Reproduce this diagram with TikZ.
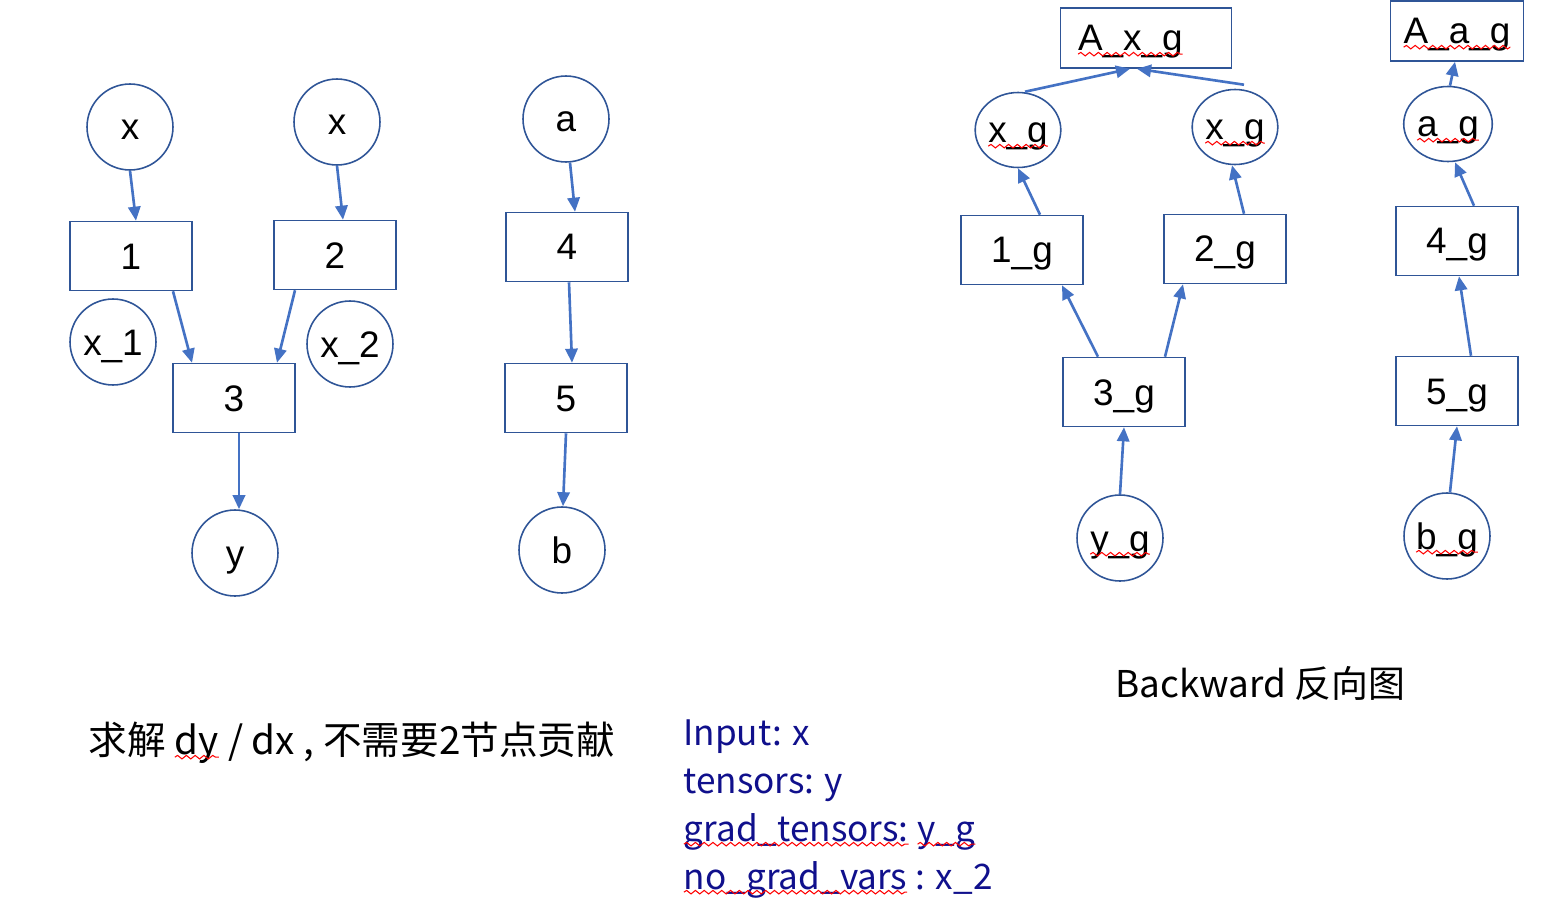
\documentclass[tikz,border=0pt]{standalone}
\usepackage{fontspec}
\setmainfont{Liberation Sans}
\newfontfamily\cjk{Noto Sans CJK SC}
\usetikzlibrary{arrows.meta, shapes.geometric, decorations.pathmorphing}
\newcommand\redwave[1]{\tikz[baseline=(w.base), x=1cm, y=1cm]{%
  \node[rectangle, draw=none, fill=none, inner sep=0pt, outer sep=0pt, minimum width=0pt, minimum height=0pt,
        text width=, text height=, text depth=, anchor=center] (w) {#1};
  \draw[red, line width=0.6pt, decorate, decoration={snake, amplitude=1pt, segment length=5pt}]
    ([yshift=-1.8pt]w.base west) -- ([yshift=-1.8pt]w.base east);}}

\begin{document}
\begin{tikzpicture}[x=0.02cm, y=-0.02cm, font=\fontsize{21}{25}\selectfont,
    lbl/.style={inner sep=0pt, text height=0.6cm, text depth=0.08cm},
    vnode/.style={lbl, circle, draw=nodeblue, line width=0.9pt, minimum size=1.72cm},
    gnode/.style={lbl, ellipse, draw=nodeblue, line width=0.9pt, minimum width=1.6cm, minimum height=1.5cm},
    opbox/.style={lbl, rectangle, draw=nodeblue, line width=0.9pt, minimum width=2.44cm, minimum height=1.38cm},
    flow/.style={draw=arrowblue, line width=1.5pt, -{Triangle[length=8pt, width=7pt]}},
    note/.style={font=\cjk\fontsize{#1}{27}\selectfont, inner sep=0pt, anchor=base west}]
  \definecolor{nodeblue}{RGB}{47,85,151}
  \definecolor{arrowblue}{RGB}{68,114,196}
  \definecolor{argblue}{RGB}{16,16,140}
  \useasboundingbox (0,0) rectangle (1556,916);
  % ---- forward graph ------------------------------------------------------
  \foreach \n/\x/\y/\t in {x1in/130/127/x, x2in/337/122/x, xa/113/342/x\_1, xb/350/344/x\_2,
                           yout/235/553/y, ain/566/119/a, bout/562/550/b} {
    \node[vnode] (\n) at (\x,\y) {\t};}
  \foreach \n/\x/\y/\t in {op1/131/256/1, op2/335/255/2, op3/234/398/3, op4/567/247/4, op5/566/398/5} {
    \node[opbox] (\n) at (\x,\y) {\t};}
  \draw[flow] (x1in.south) -- ([shift={(5,0)}]op1.north);
  \draw[flow] (x2in.south) -- ([shift={(8,0)}]op2.north);
  \draw[flow] ([shift={(42,0)}]op1.south) -- ([shift={(-42,0)}]op3.north);
  \draw[flow] ([shift={(-40,0)}]op2.south) -- ([shift={(43,0)}]op3.north);
  \draw[flow] ([shift={(5,0)}]op3.south) -- ([shift={(4,0)}]yout.north);
  \draw[flow] ([shift={(4,0)}]ain.south) -- ([shift={(8,0)}]op4.north);
  \draw[flow] ([shift={(2,0)}]op4.south) -- ([shift={(6,0)}]op5.north);
  \draw[flow] (op5.south) -- ([shift={(1,0)}]bout.north);
  % ---- backward graph -----------------------------------------------------
  \node[opbox, minimum width=3.42cm, minimum height=1.2cm, text width=2.74cm, align=left] (axg) at (1146,38) {\redwave{A\_x\_g}};
  \node[opbox, minimum width=2.66cm, minimum height=1.2cm] (aag) at (1457,31) {\redwave{A\_a\_g}};
  \node[gnode] (xgl) at (1018,130) {\redwave{x\_g}};
  \node[gnode] (xgr) at (1235,127) {\redwave{x\_g}};
  \node[gnode] (agn) at (1448,124) {\redwave{a\_g}};
  \foreach \n/\x/\y/\t in {g1/1022/250/1\_g, g2/1225/249/2\_g, g3/1124/392/3\_g, g4/1457/241/4\_g, g5/1457/391/5\_g} {
    \node[opbox] (\n) at (\x,\y) {\t};}
  \node[vnode] (yg) at (1120,538) {\redwave{y\_g}};
  \node[vnode] (bg) at (1447,536) {\redwave{b\_g}};
  \draw[flow] ([shift={(18,0)}]g1.north) -- (xgl.south);
  \draw[flow] ([shift={(19,0)}]g2.north) -- ([shift={(-3,0)}]xgr.south);
  \draw[flow] ([shift={(7,0)}]xgl.north) -- ([shift={(-16,0)}]axg.south);
  \draw[flow] ([shift={(9,-4)}]xgr.north) -- ([shift={(-9,0)}]axg.south);
  \draw[flow] ([shift={(-26,0)}]g3.north) -- ([shift={(40,0)}]g1.south);
  \draw[flow] ([shift={(41,0)}]g3.north) -- ([shift={(-42,0)}]g2.south);
  \draw[flow] (yg.north) -- (g3.south);
  \draw[flow] ([shift={(2,0)}]agn.north) -- ([shift={(-2,0)}]aag.south);
  \draw[flow] ([shift={(17,0)}]g4.north) -- ([shift={(7,0)}]agn.south);
  \draw[flow] ([shift={(14,0)}]g5.north) -- ([shift={(2,0)}]g4.south);
  \draw[flow] ([shift={(3,0)}]bg.north) -- (g5.south);
  % ---- captions -----------------------------------------------------------
  \node[note=22] (goal) at (88,754) {求解 \redwave{dy} / dx , 不需要2节点贡献};
  \node[note=21] (title) at (1115,697) {Backward 反向图};
  \foreach \y/\t [count=\i] in {745/{Input: x}, 793/{tensors: y}, 841/{\redwave{grad\_tensors:} \redwave{y\_g}},
                                889/{\redwave{no\_grad\_vars} : x\_2}} {
    \node[note=20, text=argblue] (arg\i) at (683,\y) {\t};}
\end{tikzpicture}
\end{document}
